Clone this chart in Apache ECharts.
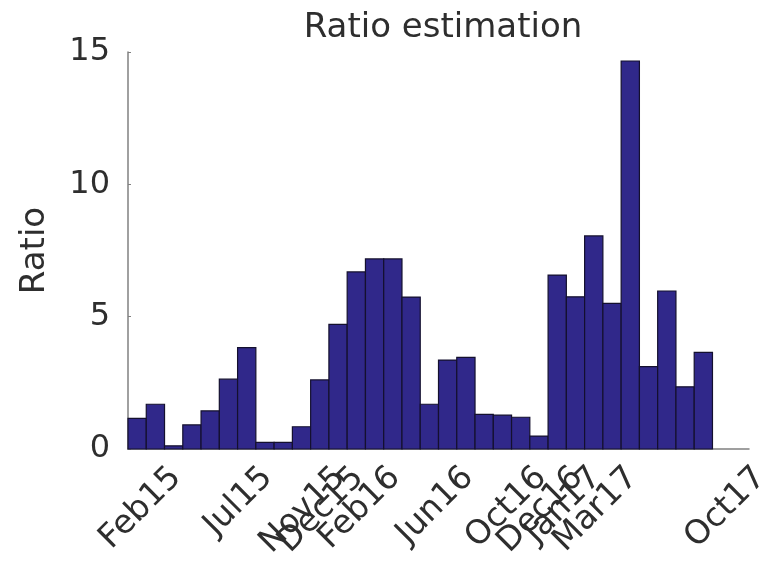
<!DOCTYPE html>
<html>
<head>
<meta charset="utf-8">
<script src="https://cdn.jsdelivr.net/npm/echarts@6/dist/echarts.min.js"></script>
<style>
  html, body { margin: 0; padding: 0; background: #fff; }
  #chart { width: 761px; height: 566px; }
</style>
</head>
<body>
<div id="chart"></div>
<script>
// months counted from Dec 2014 (= 0); one bar per month
var monthStart = [0, 1, 2, 3, 4, 5, 6, 7, 8, 9, 10, 11, 12, 13, 14, 15,
                  16, 17, 18, 19, 20, 21, 22, 23, 24, 25, 26, 27, 28, 29, 30, 31];
var ratio = [1.16, 1.69, 0.12, 0.91, 1.44, 2.64, 3.83, 0.25, 0.25, 0.84, 2.61, 4.71,
             6.69, 7.18, 7.18, 5.74, 1.69, 3.36, 3.46, 1.31, 1.28, 1.2, 0.49, 6.57,
             5.75, 8.05, 5.5, 14.66, 3.11, 5.97, 2.35, 3.65];
var tickMonths = [2, 7, 11, 12, 14, 18, 22, 24, 25, 27, 34];
var tickLabels = ['Feb15', 'Jul15', 'Nov15', 'Dec15', 'Feb16', 'Jun16',
                  'Oct16', 'Dec16', 'Jan17', 'Mar17', 'Oct17'];

(function () {
    var myChart = echarts.init(document.getElementById('chart'));
    var font = 'DejaVu Sans';
    var textColor = '#2e2e2e';

    var option = {
        animation: false,
        title: {
            text: 'Ratio estimation',
            left: 438,
            top: 6,
            textAlign: 'center',
            textStyle: { fontFamily: font, fontSize: 34, fontWeight: 'normal', color: textColor }
        },
        grid: { left: 128, right: 12, top: 52, bottom: 117, outerBoundsMode: 'none', containLabel: false },
        xAxis: {
            type: 'value',
            min: 0,
            max: 34,
            interval: 1,
            splitLine: { show: false },
            axisLine: { lineStyle: { color: '#808080', width: 1.5 } },
            axisTick: { show: false },
            axisLabel: {
                rotate: 45,
                margin: 12,
                verticalAlign: 'top',
                fontFamily: font,
                fontSize: 33,
                color: textColor,
                showMinLabel: true,
                showMaxLabel: true,
                hideOverlap: false,
                formatter: function (v) {
                    var i = tickMonths.indexOf(Math.round(v));
                    return i >= 0 ? tickLabels[i] : '';
                }
            }
        },
        yAxis: {
            type: 'value',
            min: 0,
            max: 15,
            interval: 5,
            name: 'Ratio',
            nameLocation: 'middle',
            nameGap: 76,
            nameTextStyle: { fontFamily: font, fontSize: 34, color: textColor },
            splitLine: { show: false },
            axisLine: { show: true, lineStyle: { color: '#808080', width: 1.5 } },
            axisTick: { show: true, inside: true, length: 3, lineStyle: { color: '#808080' } },
            axisLabel: { margin: 18, fontFamily: font, fontSize: 32, color: textColor }
        },
        series: [{
            type: 'custom',
            data: monthStart.map(function (m, i) { return [m, ratio[i]]; }),
            encode: { x: 0, y: 1 },
            renderItem: function (params, api) {
                var p0 = api.coord([api.value(0), api.value(1)]);
                var p1 = api.coord([api.value(0) + 1, 0]);
                return {
                    type: 'rect',
                    shape: { x: p0[0], y: p0[1], width: p1[0] - p0[0], height: p1[1] - p0[1] },
                    style: { fill: '#30288a', stroke: '#14102e', lineWidth: 1.2 }
                };
            }
        }]
    };

    myChart.setOption(option);
})();
</script>
</body>
</html>
